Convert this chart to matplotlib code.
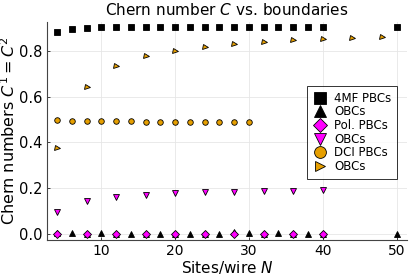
import matplotlib
matplotlib.use("Agg")
import matplotlib.pyplot as plt
from matplotlib.lines import Line2D

# 4MF
x_4mf_pbc = [4, 6, 8, 10, 12, 14, 16, 18, 20, 22, 24, 26, 28, 30, 32, 34, 36, 38, 40, 50]
y_4mf_pbc = [0.883, 0.896, 0.902, 0.903, 0.903, 0.903, 0.903, 0.903, 0.903, 0.903,
             0.903, 0.903, 0.903, 0.903, 0.903, 0.903, 0.903, 0.903, 0.903, 0.903]
x_4mf_obc = [4, 6, 8, 10, 12, 14, 16, 18, 20, 22, 24, 26, 28, 30, 32, 34, 36, 38, 40, 50]
y_4mf_obc = [0.005, 0.005, 0.0, 0.001, 0.0, 0.0, 0.0, 0.0, 0.0, 0.0,
             0.0, 0.0, 0.006, 0.004, 0.0, 0.001, 0.0, 0.0, 0.0, 0.0]
# Pol
x_pol_pbc = [4, 8, 12, 16, 20, 24, 28, 32, 36, 40]
y_pol_pbc = [0.0, 0.0, 0.0, 0.0, 0.0, 0.0, 0.0, 0.0, 0.0, 0.0]
x_pol_obc = [4, 8, 12, 16, 20, 24, 28, 32, 36, 40]
y_pol_obc = [0.097, 0.145, 0.162, 0.171, 0.177, 0.181, 0.183, 0.186, 0.187, 0.190]
# DCI
x_dci_pbc = [4, 6, 8, 10, 12, 14, 16, 18, 20, 22, 24, 26, 28, 30]
y_dci_pbc = [0.497, 0.495, 0.494, 0.493, 0.492, 0.492, 0.491, 0.491, 0.491, 0.491,
             0.490, 0.490, 0.490, 0.490]
x_dci_obc = [4, 8, 12, 16, 20, 24, 28, 32, 36, 40, 44, 48]
y_dci_obc = [0.373, 0.644, 0.734, 0.776, 0.800, 0.818, 0.832, 0.840, 0.847, 0.853, 0.857, 0.861]

labels = ["4MF PBCs", "OBCs", "Pol. PBCs", "OBCs", "DCI PBCs", "OBCs"]
MAG = "#ff00ff"
ORG = "#e69f00"

fig = plt.figure(figsize=(4.15, 2.77), dpi=100)
ax = fig.add_axes([0.113, 0.134, 0.867, 0.787])

kw = dict(linestyle="none", markeredgecolor="black", markeredgewidth=0.6)
ax.plot(x_4mf_pbc, y_4mf_pbc, marker="s", color="black", markersize=5, **kw)
ax.plot(x_4mf_obc, y_4mf_obc, marker="^", color="black", markersize=4.2, **kw)
ax.plot(x_pol_pbc, y_pol_pbc, marker="D", color=MAG, markersize=3.6, **kw)
ax.plot(x_pol_obc, y_pol_obc, marker="v", color=MAG, markersize=4.8, **kw)
ax.plot(x_dci_pbc, y_dci_pbc, marker="o", color=ORG, markersize=4.0, **kw)
ax.plot(x_dci_obc, y_dci_obc, marker=">", color=ORG, markersize=3.6, **kw)

ax.set_xlim(2.62, 51.38)
ax.set_ylim(-0.027, 0.927)
ax.set_xticks([10, 20, 30, 40, 50])
ax.set_yticks([0.0, 0.2, 0.4, 0.6, 0.8])
ax.set_yticklabels(["0.0", "0.2", "0.4", "0.6", "0.8"])
ax.grid(True, color="#e6e6e6", linewidth=0.6)
ax.set_axisbelow(True)
for s in ["top", "right"]:
    ax.spines[s].set_visible(False)
for s in ["left", "bottom"]:
    ax.spines[s].set_color("#444444")
    ax.spines[s].set_linewidth(0.8)
ax.tick_params(direction="in", length=2.5, width=0.6, labelsize=10.5, colors="#222222", pad=3)
ax.tick_params(axis="x", labelsize=10)
ax.tick_params(axis="both", labelcolor="black")

ax.set_title("Chern number $C$ vs. boundaries", fontsize=11, pad=5)
ax.set_xlabel("Sites/wire $N$", fontsize=11, labelpad=1)
ax.set_ylabel("Chern numbers $C^1 = C^2$", fontsize=11.5, labelpad=1)

handles = [
    Line2D([], [], marker="s", color="black", markersize=8.5, **kw),
    Line2D([], [], marker="^", color="black", markersize=8.5, **kw),
    Line2D([], [], marker="D", color=MAG, markersize=7, **kw),
    Line2D([], [], marker="v", color=MAG, markersize=8.5, **kw),
    Line2D([], [], marker="o", color=ORG, markersize=8.5, **kw),
    Line2D([], [], marker=">", color=ORG, markersize=7, **kw),
]
leg = ax.legend(handles, labels, loc="upper left", bbox_to_anchor=(0.723, 0.706),
                fontsize=8.5, frameon=True, fancybox=False, edgecolor="black",
                handlelength=1.2, handletextpad=0.6, labelspacing=0.05,
                borderpad=0.5, borderaxespad=0.0)
leg.get_frame().set_linewidth(0.7)

fig.savefig("out.png", dpi=100)
